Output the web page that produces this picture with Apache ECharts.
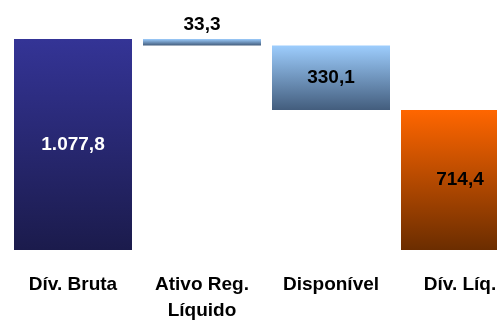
<!DOCTYPE html>
<html>
<head>
<meta charset="utf-8">
<script src="https://cdn.jsdelivr.net/npm/echarts@6/dist/echarts.min.js"></script>
<style>
  html, body { margin: 0; padding: 0; background: #ffffff; overflow: hidden; }
  /* the last bar runs past the right edge of the view */
  #chart { width: 525px; height: 327px; }
</style>
</head>
<body>
<div id="chart"></div>
<script>
// Debt bridge: gross debt minus net regulatory assets and cash gives net debt
const categories = ['Dív. Bruta', 'Ativo Reg.\nLíquido', 'Disponível', 'Dív. Líq.'];
const values = [1077.8, 33.3, 330.1, 714.4];
const steps = ['total', 'down', 'down', 'total'];

// Vertical gradients per bar (top colour, bottom colour)
const gradients = [
  ['#343496', '#1b1b4c'],
  ['#9dcdfd', '#435d7d'],
  ['#9dcdfd', '#435d7d'],
  ['#ff6600', '#6b2d00']
];

// Brazilian number format: 1.077,8
function fmt(v) {
  const parts = v.toFixed(1).split('.');
  const intPart = parts[0].replace(/\B(?=(\d{3})+(?!\d))/g, '.');
  return intPart + ',' + parts[1];
}

// Invisible offsets so each step floats at the running level
const bases = [];
let level = 0;
values.forEach(function (v, i) {
  if (steps[i] === 'total') {
    bases.push(0);
    level = v;
  } else {
    level -= v;
    bases.push(level);
  }
});

const labelStyles = [
  { position: 'inside', color: '#ffffff' },
  { position: 'top', color: '#000000', distance: 5 },
  { position: 'inside', color: '#000000' },
  { position: 'inside', color: '#000000' }
];

const font = '"Liberation Sans", Arial, sans-serif';

const chart = echarts.init(document.getElementById('chart'), null, { renderer: 'canvas' });
chart.setOption({
  animation: false,
  backgroundColor: '#ffffff',
  grid: { left: 8.5, right: 0.5, top: 15, bottom: 77, containLabel: false },
  xAxis: {
    type: 'category',
    data: categories,
    axisLine: { show: false },
    axisTick: { show: false },
    axisLabel: {
      interval: 0,
      margin: 22,
      color: '#000000',
      fontFamily: font,
      fontWeight: 'bold',
      fontSize: 19,
      lineHeight: 26
    }
  },
  yAxis: {
    type: 'value',
    min: 0,
    max: 1200,
    show: false,
    splitLine: { show: false }
  },
  series: [
    {
      type: 'bar',
      stack: 'bridge',
      barWidth: 118,
      silent: true,
      itemStyle: { color: 'rgba(0,0,0,0)' },
      data: bases
    },
    {
      type: 'bar',
      stack: 'bridge',
      barWidth: 118,
      data: values.map(function (v, i) {
        return {
          value: v,
          itemStyle: {
            color: new echarts.graphic.LinearGradient(0, 0, 0, 1, [
              { offset: 0, color: gradients[i][0] },
              { offset: 1, color: gradients[i][1] }
            ])
          },
          label: Object.assign({
            show: true,
            fontFamily: font,
            fontWeight: 'bold',
            fontSize: 19,
            formatter: function () { return fmt(v); }
          }, labelStyles[i])
        };
      })
    }
  ]
});
</script>
</body>
</html>
